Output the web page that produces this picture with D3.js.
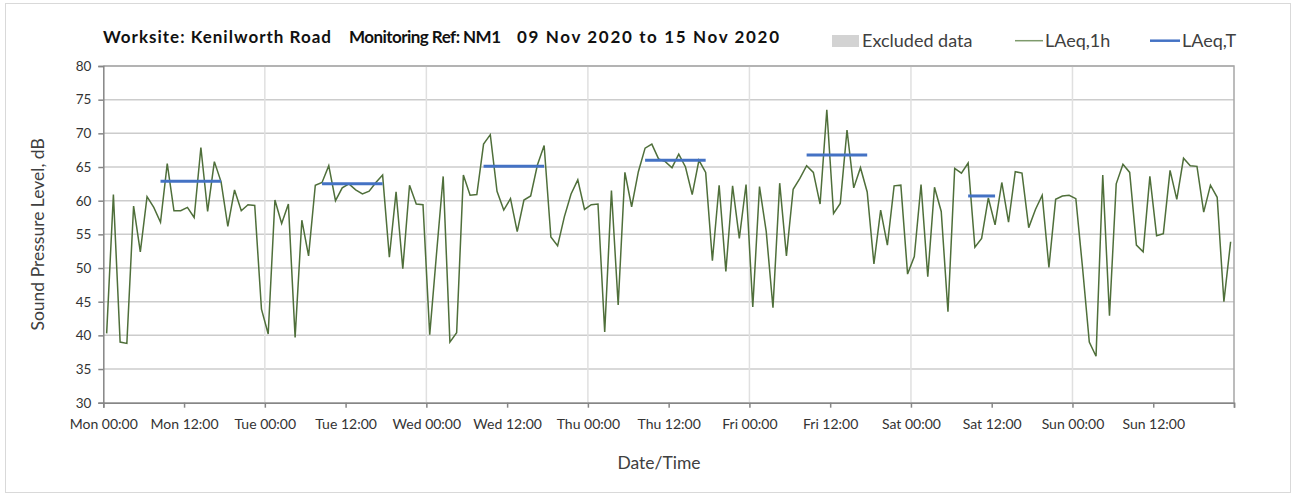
<!DOCTYPE html>
<html>
<head>
<meta charset="utf-8">
<script src="https://cdn.jsdelivr.net/npm/d3@7"></script>
<style>
  body { margin: 0; background: #fff; }
  svg { display: block; font-family: Lato, "Open Sans", sans-serif; }
</style>
</head>
<body>
<svg width="1304" height="497"></svg>
<script>
// hourly LAeq,1h values, Mon 09 Nov 00:00 -> Sun 15 Nov 23:00
const laeq1h = [
  40.3, 60.9, 39.0, 38.8, 59.2, 52.4, 60.6, 59.0, 56.8, 65.5, 58.5, 58.5,
  59.0, 57.5, 67.9, 58.4, 65.8, 62.8, 56.2, 61.6, 58.5, 59.4, 59.3, 43.9,
  40.2, 60.1, 56.6, 59.5, 39.7, 57.1, 51.8, 62.3, 62.7, 65.2, 60.0, 61.9,
  62.5, 61.6, 61.0, 61.4, 62.7, 63.8, 51.6, 61.3, 49.9, 62.3, 59.5, 59.4,
  40.1, 52.0, 63.6, 39.0, 40.4, 63.8, 60.8, 60.9, 68.4, 69.8, 61.4, 58.6,
  60.3, 55.4, 60.1, 60.7, 65.3, 68.2, 54.6, 53.3, 57.6, 61.0, 63.1, 58.7,
  59.4, 59.5, 40.5, 61.5, 44.5, 64.2, 59.1, 64.3, 67.8, 68.4, 66.2, 65.8,
  64.9, 66.9, 65.0, 60.9, 66.0, 64.2, 51.1, 62.3, 49.5, 62.2, 54.4, 62.4,
  44.2, 62.1, 55.4, 44.1, 62.6, 51.8, 61.7, 63.3, 65.2, 64.2, 59.5, 73.5,
  58.1, 59.6, 70.5, 61.9, 64.9, 61.3, 50.6, 58.6, 53.4, 62.2, 62.3, 49.1,
  51.7, 62.4, 48.7, 62.0, 58.4, 43.5, 64.8, 64.1, 65.6, 53.1, 54.4, 60.4,
  56.4, 62.7, 56.8, 64.3, 64.1, 56.0, 58.7, 60.8, 50.1, 60.2, 60.7, 60.8,
  60.3, 50.0, 39.0, 36.9, 63.8, 42.9, 62.5, 65.4, 64.2, 53.4, 52.4, 63.6,
  54.8, 55.1, 64.5, 60.2, 66.3, 65.2, 65.1, 58.3, 62.3, 60.5, 45.0, 53.9
]

// LAeq,T over the working period of each day
const periodDays = [0, 1, 2, 3, 4, 5]
const periodStart = [8, 8, 8, 8, 8, 8]
const periodEnd = [18, 18, 18, 18, 18, 13]
const laeqT = [62.9, 62.5, 65.1, 66.0, 66.8, 60.7]

const yTicks = [30, 35, 40, 45, 50, 55, 60, 65, 70, 75, 80]
const titleParts = ["Worksite: Kenilworth Road", "Monitoring Ref: NM1", "09 Nov 2020 to 15 Nov 2020"]
const start = new Date(2020, 10, 9, 0, 0)
const end = new Date(2020, 10, 16, 0, 0)

const svg = d3.select("svg")
const margin = {left: 103.3, right: 1234, top: 66, bottom: 402.7}

const hourMs = 3600 * 1000
const at = h => new Date(start.getTime() + h * hourMs)

const x = d3.scaleTime().domain([start, end]).range([margin.left, margin.right])
const y = d3.scaleLinear().domain([30, 80]).range([margin.bottom, margin.top])

// outer frame
svg.append("rect")
    .attr("x", 5.5).attr("y", 3.5)
    .attr("width", 1285).attr("height", 489)
    .attr("fill", "none")
    .attr("stroke", "#d9d9d9")

// horizontal grid
svg.append("g")
    .selectAll("line")
    .data(yTicks)
    .enter().append("line")
    .attr("x1", margin.left).attr("x2", margin.right)
    .attr("y1", d => y(d)).attr("y2", d => y(d))
    .attr("stroke", "#cccccc")
    .attr("stroke-width", 1.5)

// vertical day grid
svg.append("g")
    .selectAll("line")
    .data(d3.timeDay.range(d3.timeDay.offset(start, 1), end))
    .enter().append("line")
    .attr("x1", d => x(d)).attr("x2", d => x(d))
    .attr("y1", margin.top).attr("y2", margin.bottom)
    .attr("stroke", "#e0e0e0")
    .attr("stroke-width", 1.5)

// plot border on top / right
svg.append("path")
    .attr("d", `M${margin.left},${margin.top}H${margin.right}V${margin.bottom}`)
    .attr("fill", "none")
    .attr("stroke", "#a6a6a6")
    .attr("stroke-width", 1.5)

// y axis
const yAxis = svg.append("g")
    .attr("transform", `translate(${margin.left},0)`)
    .call(d3.axisLeft(y).tickValues(yTicks).tickSize(5).tickPadding(7))
yAxis.select(".domain").attr("stroke", "#868686").attr("stroke-width", 1.5)
yAxis.selectAll(".tick line").attr("stroke", "#868686").attr("stroke-width", 1.5)
yAxis.selectAll("text")
    .attr("font-family", "Lato, sans-serif")
    .attr("font-size", 13.5)
    .attr("fill", "#333")

// x axis
const fmt = d3.timeFormat("%a %H:%M")
const xTicks = d3.timeHour.every(12).range(start, d3.timeHour.offset(end, 1))
const xAxis = svg.append("g")
    .attr("transform", `translate(0,${margin.bottom})`)
    .call(d3.axisBottom(x).tickValues(xTicks).tickSize(5).tickPadding(11)
        .tickFormat(d => +d === +end ? "" : fmt(d)))
xAxis.select(".domain").attr("stroke", "#868686").attr("stroke-width", 1.5)
xAxis.selectAll(".tick line").attr("stroke", "#868686").attr("stroke-width", 1.5)
xAxis.selectAll("text")
    .attr("font-family", "Lato, sans-serif")
    .attr("font-size", 14)
    .attr("fill", "#333")

// LAeq,1h line
const line = d3.line()
    .x((d, i) => x(at(i + 0.5)))
    .y(d => y(d))

svg.append("path")
    .datum(laeq1h)
    .attr("d", line)
    .attr("fill", "none")
    .attr("stroke", "#4f6f3a")
    .attr("stroke-width", 1.5)
    .attr("stroke-linejoin", "miter")

// LAeq,T segments
svg.append("g")
    .selectAll("line")
    .data(laeqT)
    .enter().append("line")
    .attr("x1", (d, i) => x(at(periodDays[i] * 24 + periodStart[i] + 0.5)))
    .attr("x2", (d, i) => x(at(periodDays[i] * 24 + periodEnd[i] - 0.5)))
    .attr("y1", d => y(d)).attr("y2", d => y(d))
    .attr("stroke", "#4472c4")
    .attr("stroke-width", 3)

// title, three parts fitted to the widths in the original
const titleX = [103, 349, 517]
const titleW = [228, 152, 262]
svg.append("g")
    .selectAll("text")
    .data(titleParts)
    .enter().append("text")
    .attr("x", (d, i) => titleX[i])
    .attr("y", 43)
    .attr("font-size", 17)
    .attr("font-weight", "bold")
    .attr("fill", "#111")
    .attr("textLength", (d, i) => titleW[i])
    .attr("lengthAdjust", "spacing")
    .text(d => d)

// legend
const legend = svg.append("g").attr("font-size", 18).attr("fill", "#404040")
legend.append("rect")
    .attr("x", 832).attr("y", 35).attr("width", 27).attr("height", 12)
    .attr("fill", "#d3d3d3")
legend.append("text").attr("x", 862).attr("y", 47).text("Excluded data")
legend.append("line")
    .attr("x1", 1015).attr("x2", 1043).attr("y1", 40.7).attr("y2", 40.7)
    .attr("stroke", "#7e9a6c").attr("stroke-width", 1.5)
legend.append("text").attr("x", 1045).attr("y", 47).text("LAeq,1h")
legend.append("line")
    .attr("x1", 1150).attr("x2", 1180).attr("y1", 40.7).attr("y2", 40.7)
    .attr("stroke", "#4472c4").attr("stroke-width", 2.5)
legend.append("text").attr("x", 1182).attr("y", 47).text("LAeq,T")

// axis titles
svg.append("text")
    .attr("transform", `translate(44,${(margin.top + margin.bottom) / 2}) rotate(-90)`)
    .attr("text-anchor", "middle")
    .attr("font-size", 17.5)
    .attr("fill", "#404040")
    .text("Sound Pressure Level, dB")

svg.append("text")
    .attr("x", 659).attr("y", 469)
    .attr("text-anchor", "middle")
    .attr("font-size", 17.5)
    .attr("fill", "#404040")
    .text("Date/Time")
</script>
</body>
</html>
